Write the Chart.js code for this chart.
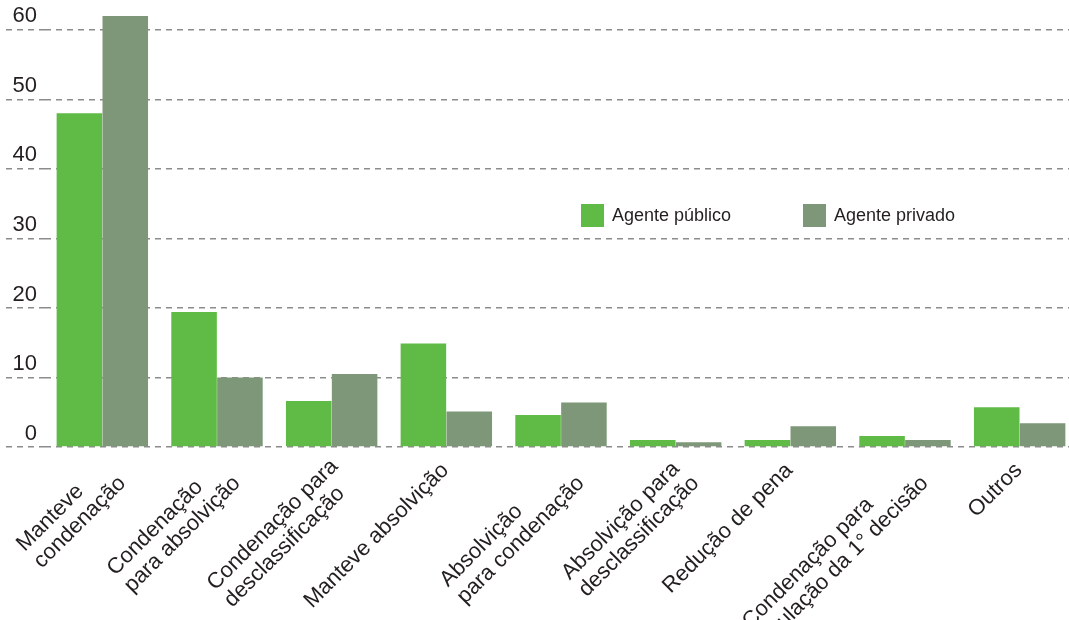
<!DOCTYPE html>
<html>
<head>
<meta charset="utf-8">
<script src="https://cdn.jsdelivr.net/npm/chart.js@4.4.1/dist/chart.umd.min.js"></script>
<style>
  html, body { margin: 0; padding: 0; background: #fff; overflow: hidden; }
  #wrap { position: relative; width: 1077px; height: 620px; }
  #legend { position: absolute; left: 581px; top: 204px; display: flex; font-family: 'Liberation Sans', Arial, sans-serif; font-size: 18px; color: #231f20; }
  .item { display: flex; align-items: center; width: 222px; }
  .box { width: 23px; height: 23px; margin-right: 8px; }
</style>
</head>
<body>
<div id="wrap">
  <canvas id="chart" width="1077" height="620"></canvas>
  <div id="legend"></div>
</div>
<script>
const categories = [
  ['Manteve', 'condenação'],
  ['Condenação', 'para absolvição'],
  ['Condenação para', 'desclassificação'],
  ['Manteve absolvição'],
  ['Absolvição', 'para condenação'],
  ['Absolvição para', 'desclassificação'],
  ['Redução de pena'],
  ['Condenação para', 'anulação da 1° decisão'],
  ['Outros']
];
const agentePublico = [48, 19.4, 6.6, 14.9, 4.6, 1.0, 1.0, 1.6, 5.7];
const agentePrivado = [62, 10, 10.5, 5.1, 6.4, 0.7, 3.0, 1.0, 3.4];
const yTicks = [0, 10, 20, 30, 40, 50, 60];

const textColor = '#231f20';
const gridColor = '#8c8c8c';
const fontFamily = "'Liberation Sans', Arial, sans-serif";

// rotated, left-aligned multi-line category labels
const xLabels = {
  id: 'xLabels',
  afterDraw(chart) {
    const ctx = chart.ctx;
    const xs = chart.scales.x;
    const base = chart.chartArea.bottom;
    const lh = 24;
    ctx.save();
    ctx.font = '22px ' + fontFamily;
    ctx.fillStyle = textColor;
    ctx.textAlign = 'left';
    ctx.textBaseline = 'middle';
    chart.data.labels.forEach((lines, i) => {
      const w = Math.max(...lines.map(l => ctx.measureText(l).width));
      const up = lines.length > 1 ? 4 : 0;
      ctx.save();
      ctx.translate(xs.getPixelForTick(i) - 1 + up, base + 20 - up);
      ctx.rotate(-Math.PI / 4);
      lines.forEach((l, j) => ctx.fillText(l, -w, j * lh));
      ctx.restore();
    });
    ctx.restore();
  }
};

const ctx = document.getElementById('chart').getContext('2d');
const chart = new Chart(ctx, {
  type: 'bar',
  data: {
    labels: categories,
    datasets: [
      { label: 'Agente público', data: agentePublico, backgroundColor: '#60ba46', borderWidth: 0 },
      { label: 'Agente privado', data: agentePrivado, backgroundColor: '#7d9778', borderWidth: 0 }
    ]
  },
  options: {
    responsive: false,
    animation: false,
    categoryPercentage: 0.8,
    barPercentage: 0.993,
    layout: { padding: { top: 2, left: 0, right: 0, bottom: 0 } },
    plugins: { legend: { display: false }, tooltip: { enabled: false } },
    scales: {
      x: {
        grid: { display: false },
        border: { display: false },
        ticks: { display: false },
        afterFit: s => { s.height = 173; }
      },
      y: {
        min: 0, max: 64,
        z: 1,
        afterBuildTicks: s => { s.ticks = yTicks.map(v => ({ value: v })); },
        afterFit: s => { s.width = 45; },
        border: { display: false, dash: [6, 5] },
        grid: { color: gridColor, lineWidth: 1.4, tickLength: 39, tickColor: gridColor, tickBorderDash: [6, 5] },
        ticks: { padding: -31, labelOffset: -13.5, color: textColor, font: { family: fontFamily, size: 22 } }
      }
    }
  },
  plugins: [xLabels]
});

const legend = document.getElementById('legend');
chart.data.datasets.forEach(d => {
  const item = document.createElement('div');
  item.className = 'item';
  const box = document.createElement('span');
  box.className = 'box';
  box.style.background = d.backgroundColor;
  const txt = document.createElement('span');
  txt.textContent = d.label;
  item.appendChild(box);
  item.appendChild(txt);
  legend.appendChild(item);
});
</script>
</body>
</html>
